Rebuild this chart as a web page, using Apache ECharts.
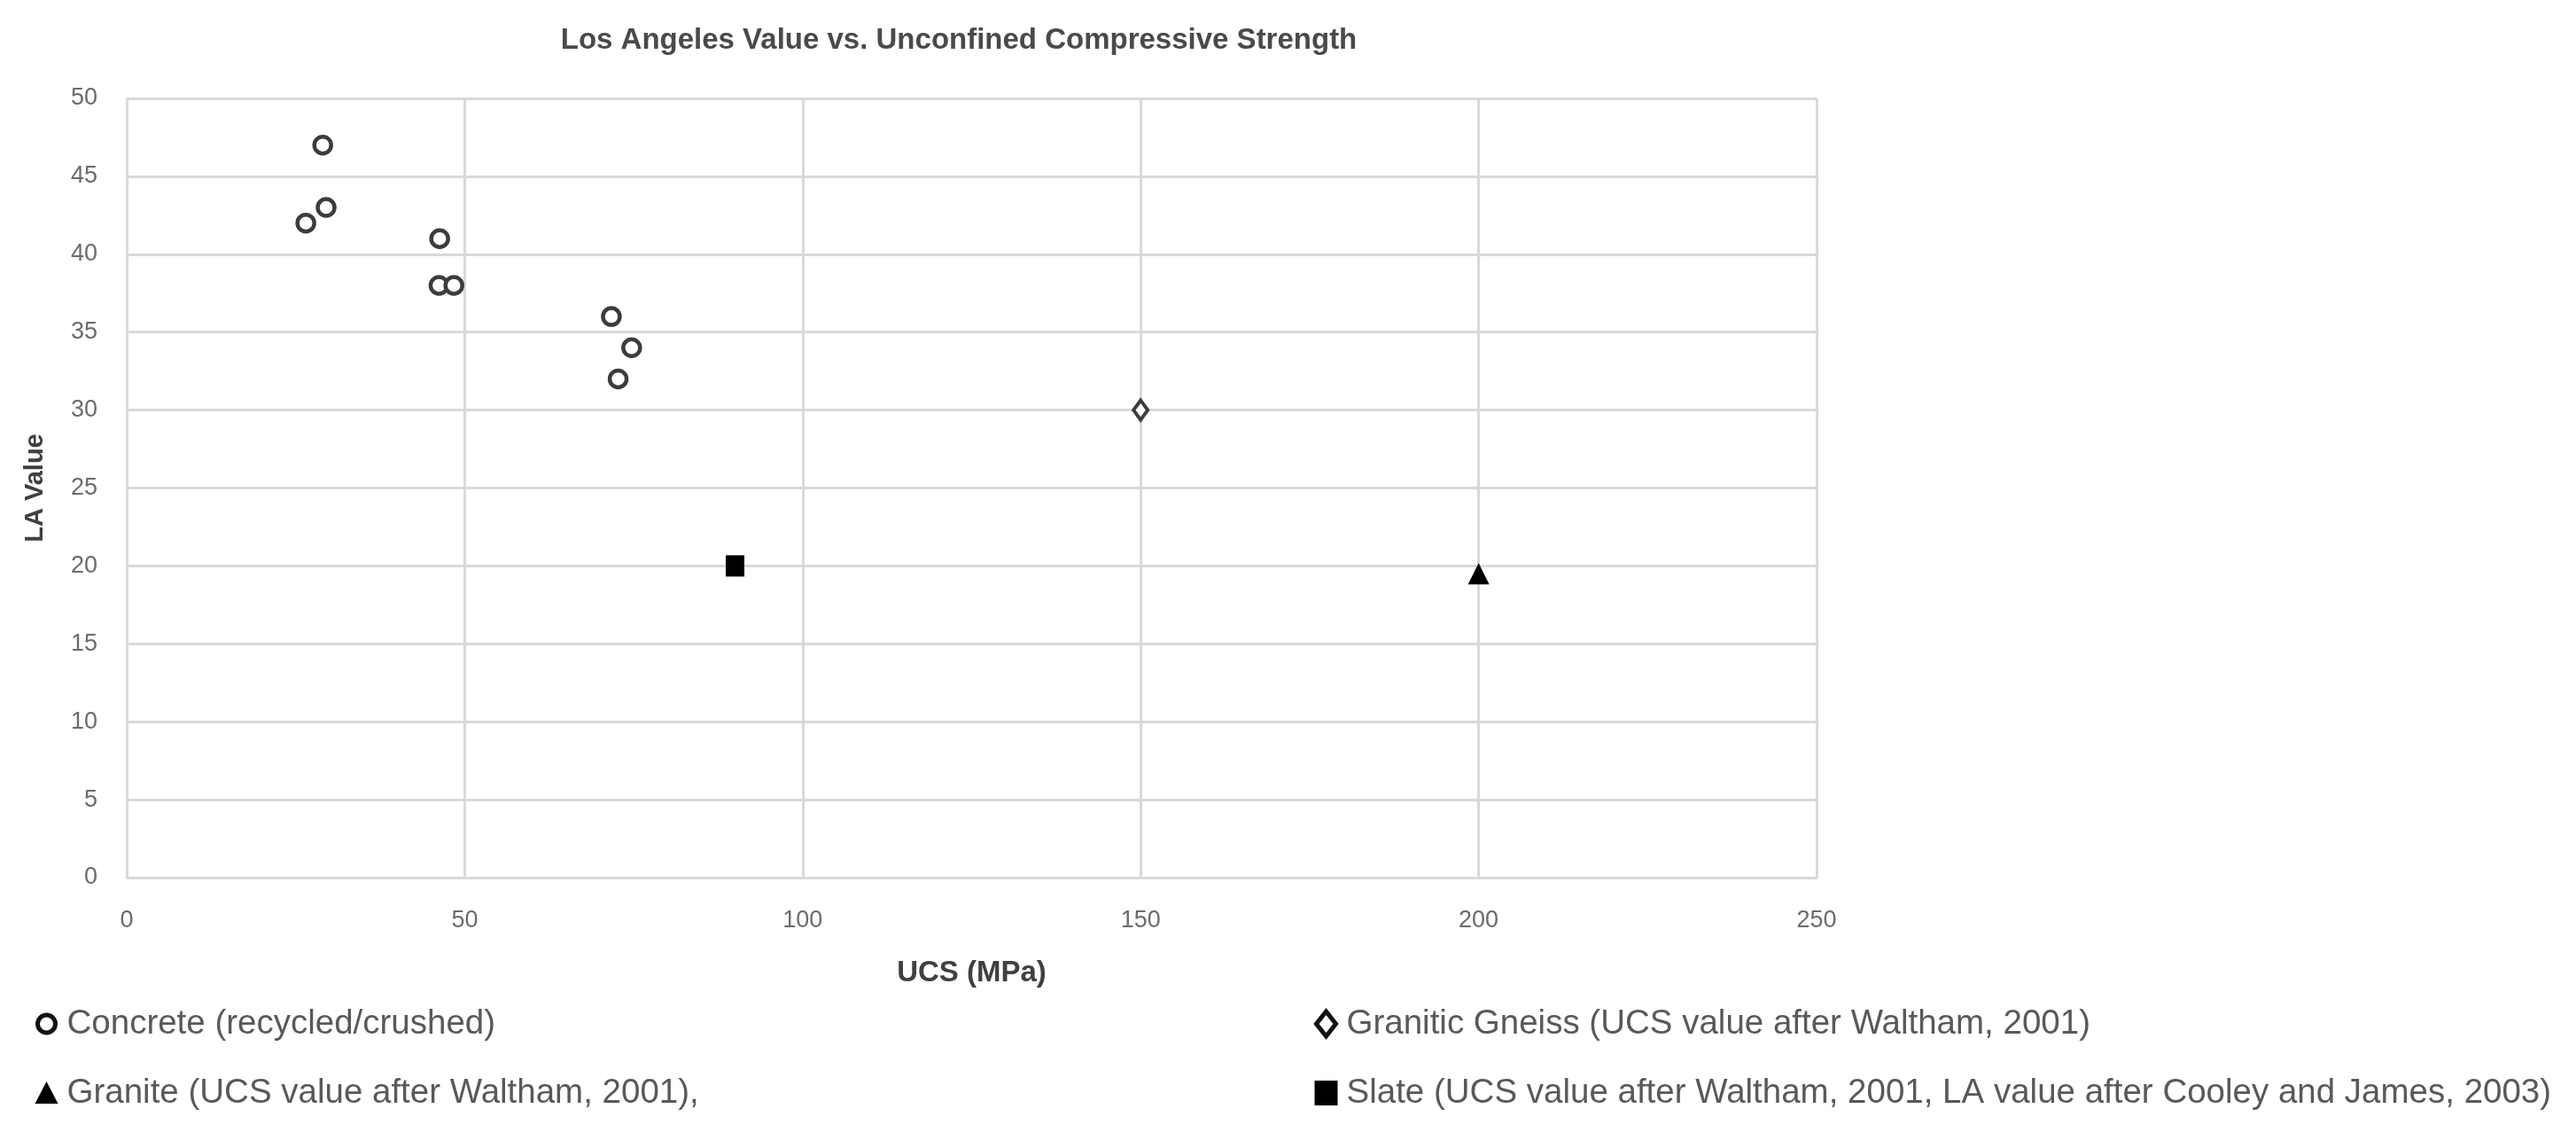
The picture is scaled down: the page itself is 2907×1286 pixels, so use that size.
<!DOCTYPE html>
<html>
<head>
<meta charset="utf-8">
<script src="https://cdn.jsdelivr.net/npm/echarts@6/dist/echarts.min.js"></script>
<style>
  html, body { margin: 0; padding: 0; background: #ffffff; }
  #chart { width: 2907px; height: 1286px; }
</style>
</head>
<body>
<div id="chart"></div>
<script>
// ---- Data ----
const titleText = 'Los Angeles Value vs. Unconfined Compressive Strength';
const xAxisName = 'UCS (MPa)';
const yAxisName = 'LA Value';

const seriesNames = [
  'Concrete (recycled/crushed)',
  'Granitic Gneiss (UCS value after Waltham, 2001)',
  'Granite (UCS value after Waltham, 2001),',
  'Slate (UCS value after Waltham, 2001, LA value after Cooley and James, 2003)'
];

// Concrete (recycled/crushed): [UCS, LA]
const concreteUCS = [29, 29.5, 26.5, 46.3, 46.2, 48.4, 71.7, 74.7, 72.7];
const concreteLA  = [47, 43,   42,   41,   38,   38,   36,   34,   32];

const gneissUCS = [150];
const gneissLA  = [30];

const graniteUCS = [200];
const graniteLA  = [19.5];

const slateUCS = [90];
const slateLA  = [20];

const xMin = 0, xMax = 250, xStep = 50;
const yMin = 0, yMax = 50, yStep = 5;

// ---- Helpers ----
function pairs(xs, ys) { return xs.map((x, i) => [x, ys[i]]); }

const gridColor = '#d9d9d9';
const labelFont = '"Liberation Sans", Arial, sans-serif';
const titleFont = '"Liberation Sans", Arial, sans-serif';

const chart = echarts.init(document.getElementById('chart'), null, { renderer: 'canvas' });

const legendText = {
  fontFamily: labelFont,
  fontSize: 38.5,
  lineHeight: 40,
  color: '#595959',
  padding: [0, 0, 0, 4]
};

// legend icons (drawn inside a 28x28 box; the leading moves set the box extent)
const iconCircle  = 'path://M0,0 M28,28 M24,14 A10,10 0 1,1 4,14 A10,10 0 1,1 24,14 Z';
const iconTri     = 'path://M0,0 M28,28 M14,1 L27,26 L1,26 Z';
const iconDiamond = 'path://M0,0 M28,28 M14,0 L25,14 L14,28 L3,14 Z';
const iconRect    = 'path://M0,0 M28,28 M1,0 L27,0 L27,28 L1,28 Z';

chart.setOption({
  backgroundColor: '#ffffff',
  animation: false,
  title: {
    text: titleText,
    left: 1077,
    top: 24,
    textAlign: 'center',
    textStyle: {
      fontFamily: titleFont,
      fontSize: 33,
      fontWeight: 'bold',
      color: '#4a4a4a'
    }
  },
  grid: {
    left: 143,
    right: 857,
    top: 111,
    bottom: 296,
    containLabel: false
  },
  xAxis: {
    type: 'value',
    min: xMin,
    max: xMax,
    interval: xStep,
    name: xAxisName,
    nameLocation: 'middle',
    nameGap: 91,
    nameTextStyle: {
      fontFamily: titleFont,
      fontSize: 33,
      fontWeight: 'bold',
      color: '#404040'
    },
    axisLine: { show: true, lineStyle: { color: gridColor, width: 3 } },
    axisTick: { show: false },
    axisLabel: {
      margin: 35,
      fontFamily: labelFont,
      fontSize: 27,
      color: '#6b6b6b'
    },
    splitLine: { show: true, lineStyle: { color: gridColor, width: 3 } }
  },
  yAxis: {
    type: 'value',
    min: yMin,
    max: yMax,
    interval: yStep,
    name: yAxisName,
    nameLocation: 'middle',
    nameGap: 89,
    nameTextStyle: {
      fontFamily: titleFont,
      fontSize: 29,
      fontWeight: 'bold',
      color: '#404040'
    },
    axisLine: { show: true, lineStyle: { color: gridColor, width: 3 } },
    axisTick: { show: false },
    axisLabel: {
      margin: 33,
      fontFamily: labelFont,
      fontSize: 27,
      color: '#6b6b6b'
    },
    splitLine: { show: true, lineStyle: { color: gridColor, width: 3 } }
  },
  legend: [
    {
      orient: 'vertical',
      left: 31,
      top: 1130,
      itemWidth: 28,
      itemHeight: 28,
      itemGap: 38,
      textStyle: legendText,
      selectedMode: false,
      data: [
        { name: seriesNames[0], icon: iconCircle,
          itemStyle: { color: '#ffffff', borderColor: '#111111', borderWidth: 5 } },
        { name: seriesNames[2], icon: iconTri,
          itemStyle: { color: '#000000', borderWidth: 0 } }
      ]
    },
    {
      orient: 'vertical',
      left: 1475,
      top: 1130,
      itemWidth: 28,
      itemHeight: 28,
      itemGap: 38,
      textStyle: legendText,
      selectedMode: false,
      data: [
        { name: seriesNames[1], icon: iconDiamond,
          itemStyle: { color: '#ffffff', borderColor: '#111111', borderWidth: 5 } },
        { name: seriesNames[3], icon: iconRect,
          itemStyle: { color: '#000000', borderWidth: 0 } }
      ]
    }
  ],
  series: [
    {
      name: seriesNames[0],
      type: 'scatter',
      symbol: 'circle',
      symbolSize: 19,
      itemStyle: { color: '#ffffff', borderColor: '#3c3c3c', borderWidth: 4.5, opacity: 1 },
      data: pairs(concreteUCS, concreteLA),
      z: 3
    },
    {
      name: seriesNames[1],
      type: 'scatter',
      symbol: 'diamond',
      symbolSize: [16, 22],
      itemStyle: { color: '#ffffff', borderColor: '#3c3c3c', borderWidth: 4, opacity: 1 },
      data: pairs(gneissUCS, gneissLA),
      z: 3
    },
    {
      name: seriesNames[2],
      type: 'scatter',
      symbol: 'triangle',
      symbolSize: [24, 24],
      itemStyle: { color: '#000000', opacity: 1 },
      data: pairs(graniteUCS, graniteLA),
      z: 3
    },
    {
      name: seriesNames[3],
      type: 'scatter',
      symbol: 'rect',
      symbolSize: [21, 24],
      itemStyle: { color: '#000000', opacity: 1 },
      data: pairs(slateUCS, slateLA),
      z: 3
    }
  ]
});
</script>
</body>
</html>
